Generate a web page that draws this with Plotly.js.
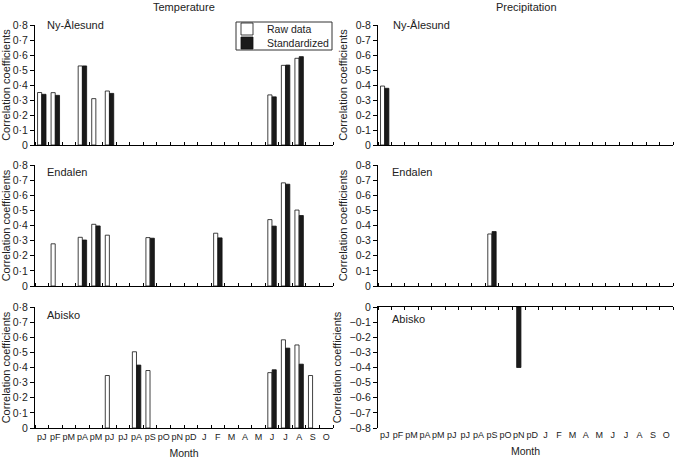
<!DOCTYPE html>
<html>
<head>
<meta charset="utf-8">
<script src="https://cdn.plot.ly/plotly-3.0.1.min.js"></script>
<style>html,body{margin:0;padding:0;background:#fff}#chart{width:677px;height:459px}</style>
</head>
<body>
<div id="chart"></div>
<script>
// ---- data ----
const months = ["pJ","pF","pM","pA","pM","pJ","pJ","pA","pS","pO","pN","pD","J","F","M","A","M","J","J","A","S","O"];
const monthIdx = months.map((m, i) => i);

const tempTicksVals = [0, 0.1, 0.2, 0.3, 0.4, 0.5, 0.6, 0.7, 0.8];
const tempTickText = ["0", "0·1", "0·2", "0·3", "0·4", "0·5", "0·6", "0·7", "0·8"];
const precTickText = ["0", "0-1", "0-2", "0-3", "0-4", "0-5", "0-6", "0-7", "0-8"];
const negTickVals = [0, -0.1, -0.2, -0.3, -0.4, -0.5, -0.6, -0.7, -0.8];
const negTickText = ["0", "−0-1", "−0-2", "−0-3", "−0-4", "−0-5", "−0-6", "−0-7", "−0-8"];

const N = null;
// Temperature
const nyTempRaw  = [0.350, 0.349, N, 0.527, 0.309, 0.360, N, N, N, N, N, N, N, N, N, N, N, 0.334, 0.531, 0.578, N, N];
const nyTempStd  = [0.338, 0.331, N, 0.527, N,     0.344, N, N, N, N, N, N, N, N, N, N, N, 0.321, 0.533, 0.589, N, N];
const endTempRaw = [N, 0.279, N, 0.322, 0.408, 0.336, N, N, 0.320, N, N, N, N, 0.349, N, N, N, 0.439, 0.682, 0.502, N, N];
const endTempStd = [N, N,     N, 0.304, 0.397, N,     N, N, 0.316, N, N, N, N, 0.318, N, N, N, 0.396, 0.673, 0.466, N, N];
const abiTempRaw = [N, N, N, N, N, 0.347, N, 0.504, 0.380, N, N, N, N, N, N, N, N, 0.366, 0.583, 0.549, 0.347, N];
const abiTempStd = [N, N, N, N, N, N,     N, 0.416, N,     N, N, N, N, N, N, N, N, 0.385, 0.528, 0.422, N,     N];
// Precipitation
const nyPrecRaw  = [0.393, N, N, N, N, N, N, N, N, N, N, N, N, N, N, N, N, N, N, N, N, N];
const nyPrecStd  = [0.378, N, N, N, N, N, N, N, N, N, N, N, N, N, N, N, N, N, N, N, N, N];
const endPrecRaw = [N, N, N, N, N, N, N, N, 0.344, N, N, N, N, N, N, N, N, N, N, N, N, N];
const endPrecStd = [N, N, N, N, N, N, N, N, 0.360, N, N, N, N, N, N, N, N, N, N, N, N, N];
const abiPrecStd = [N, N, N, N, N, N, N, N, N, N, -0.400, N, N, N, N, N, N, N, N, N, N, N];

// ---- styles ----
const W = 677, H = 459;
const FONT = '"Liberation Sans", Arial, sans-serif';
const TXT = "#222";
const colL = [35 / W, 333 / W];
const colR = [378 / W, 673 / W];
const rows = [[1 - 145 / H, 1 - 25 / H], [1 - 286 / H, 1 - 165 / H], [1 - 428 / H, 1 - 307 / H]];

function rawTrace(y, xa, ya, show) {
  return {type: "bar", x: monthIdx, y: y, xaxis: xa, yaxis: ya, name: "Raw data",
    legend: "legend", showlegend: show, hoverinfo: "skip",
    marker: {color: "#ffffff", line: {color: "#111", width: 0.8}}};
}
function stdTrace(y, xa, ya, show, width) {
  const t = {type: "bar", x: monthIdx, y: y, xaxis: xa, yaxis: ya, name: "Standardized",
    legend: "legend2", showlegend: show, hoverinfo: "skip",
    marker: {color: "#1a1a1a", line: {color: "#111", width: 0.8}}};
  if (width) t.width = width;
  return t;
}

const data = [
  rawTrace(nyTempRaw, "x", "y", true), stdTrace(nyTempStd, "x", "y", true),
  rawTrace(nyPrecRaw, "x2", "y2", false), stdTrace(nyPrecStd, "x2", "y2", false),
  rawTrace(endTempRaw, "x3", "y3", false), stdTrace(endTempStd, "x3", "y3", false),
  rawTrace(endPrecRaw, "x4", "y4", false), stdTrace(endPrecStd, "x4", "y4", false),
  rawTrace(abiTempRaw, "x5", "y5", false), stdTrace(abiTempStd, "x5", "y5", false),
  stdTrace(abiPrecStd, "x7", "y6", false, 0.32),
  {type: "scatter", mode: "markers", x: monthIdx, y: monthIdx.map(() => 0), xaxis: "x6", yaxis: "y6",
   marker: {opacity: 0}, showlegend: false, hoverinfo: "skip"}
];

function xAx(domain, anchor, labels, extra) {
  return Object.assign({
    domain: domain, anchor: anchor, range: [-0.5, 21.5],
    tickmode: "array", tickvals: monthIdx, ticktext: months, ticks: "", tickangle: 0,
    showticklabels: labels, tickfont: {family: FONT, size: 9, color: TXT},
    showline: true, linecolor: "#000", linewidth: 1, showgrid: false, zeroline: false,
    minor: {tickmode: "linear", tick0: 0.5, dtick: 1, ticks: "inside", ticklen: 3, tickcolor: "#000", tickwidth: 1, showgrid: false},
    title: labels ? {text: "Month", font: {family: FONT, size: 10.5, color: TXT}, standoff: 8} : {text: ""},
    fixedrange: true
  }, extra || {});
}
function yAx(domain, anchor, vals, text, range) {
  return {
    domain: domain, anchor: anchor, range: range,
    tickmode: "array", tickvals: vals, ticktext: text,
    ticks: "outside", ticklen: 4, tickcolor: "#000", tickwidth: 1,
    tickfont: {family: FONT, size: 10.5, color: TXT},
    showline: true, linecolor: "#000", linewidth: 1, showgrid: false, zeroline: false,
    title: {text: "Correlation coefficients", font: {family: FONT, size: 11, color: TXT}, standoff: 5},
    fixedrange: true
  };
}

function legendCfg(yc) {
  return {x: 227 / W, y: 1 - yc / H, xanchor: "left", yanchor: "middle",
    bgcolor: "rgba(0,0,0,0)", borderwidth: 0, itemwidth: 30,
    font: {family: FONT, size: 10.5, color: TXT}};
}

const layout = {
  width: W, height: H,
  margin: {l: 0, r: 0, t: 0, b: 0},
  paper_bgcolor: "#fff", plot_bgcolor: "#fff",
  font: {family: FONT, size: 10, color: TXT},
  barmode: "group", bargap: 0.36, bargroupgap: 0.05,
  showlegend: true,
  legend: legendCfg(29),
  legend2: legendCfg(43),
  shapes: [
    {type: "rect", xref: "paper", yref: "paper", x0: 236 / W, x1: 332 / W, y0: 1 - 22 / H, y1: 1 - 50 / H,
     line: {color: "#333", width: 1}, fillcolor: "rgba(0,0,0,0)", layer: "above"}
  ],
  xaxis:  xAx(colL, "y", false),
  xaxis2: xAx(colR, "y2", false),
  xaxis3: xAx(colL, "y3", false),
  xaxis4: xAx(colR, "y4", false),
  xaxis5: xAx(colL, "y5", true),
  xaxis6: xAx(colR, "y6", true, {showline: false, minor: {ticks: ""}}),
  xaxis7: xAx(colR, "y6", false, {overlaying: "x6", side: "top"}),
  yaxis:  yAx(rows[0], "x", tempTicksVals, tempTickText, [0, 0.8]),
  yaxis2: yAx(rows[0], "x2", tempTicksVals, precTickText, [0, 0.8]),
  yaxis3: yAx(rows[1], "x3", tempTicksVals, tempTickText, [0, 0.8]),
  yaxis4: yAx(rows[1], "x4", tempTicksVals, precTickText, [0, 0.8]),
  yaxis5: yAx(rows[2], "x5", tempTicksVals, tempTickText, [0, 0.8]),
  yaxis6: yAx(rows[2], "x6", negTickVals, negTickText, [-0.8, 0]),
  annotations: [
    {text: "Temperature", xref: "paper", yref: "paper", x: 184 / W, y: 1 - 7 / H, xanchor: "center", yanchor: "middle", showarrow: false, font: {family: FONT, size: 11, color: TXT}},
    {text: "Precipitation", xref: "paper", yref: "paper", x: 526 / W, y: 1 - 7 / H, xanchor: "center", yanchor: "middle", showarrow: false, font: {family: FONT, size: 11, color: TXT}},
    {text: "Ny-Ålesund", xref: "x domain", yref: "y domain", x: 0.033, y: 1.0, xanchor: "left", yanchor: "middle", showarrow: false, font: {family: FONT, size: 11, color: TXT}},
    {text: "Ny-Ålesund", xref: "x2 domain", yref: "y2 domain", x: 0.045, y: 1.0, xanchor: "left", yanchor: "middle", showarrow: false, font: {family: FONT, size: 11, color: TXT}},
    {text: "Endalen", xref: "x3 domain", yref: "y3 domain", x: 0.033, y: 0.94, xanchor: "left", yanchor: "middle", showarrow: false, font: {family: FONT, size: 11, color: TXT}},
    {text: "Endalen", xref: "x4 domain", yref: "y4 domain", x: 0.04, y: 0.94, xanchor: "left", yanchor: "middle", showarrow: false, font: {family: FONT, size: 11, color: TXT}},
    {text: "Abisko", xref: "x5 domain", yref: "y5 domain", x: 0.033, y: 0.93, xanchor: "left", yanchor: "middle", showarrow: false, font: {family: FONT, size: 11, color: TXT}},
    {text: "Abisko", xref: "x6 domain", yref: "y6 domain", x: 0.04, y: 0.9, xanchor: "left", yanchor: "middle", showarrow: false, font: {family: FONT, size: 11, color: TXT}}
  ]
};

Plotly.newPlot("chart", data, layout, {staticPlot: true, displayModeBar: false});
</script>
</body>
</html>
